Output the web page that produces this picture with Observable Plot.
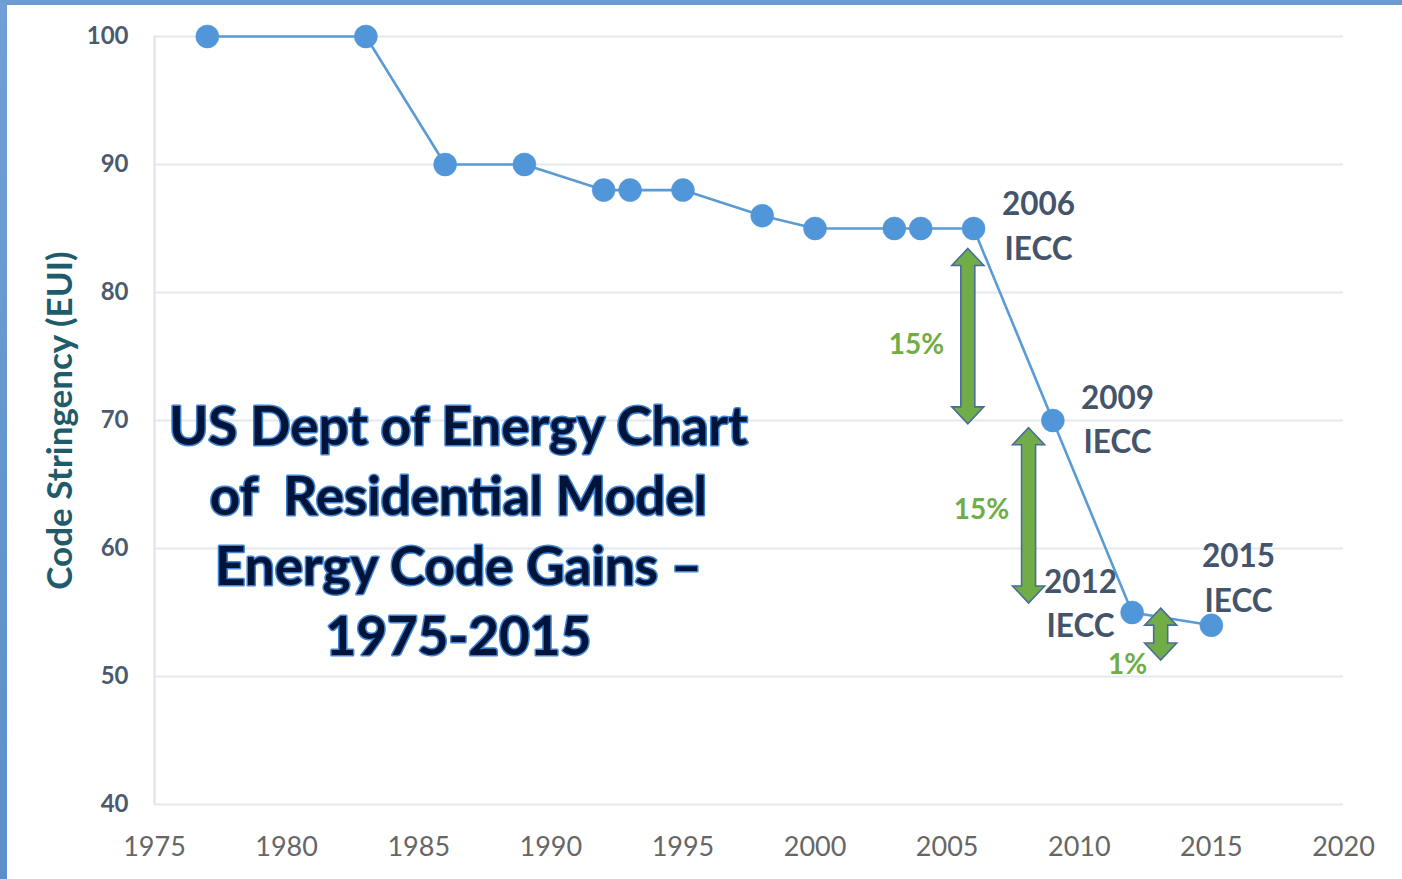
<!DOCTYPE html>
<html>
<head>
<meta charset="utf-8">
<script src="https://cdn.jsdelivr.net/npm/d3@7"></script>
<script src="https://cdn.jsdelivr.net/npm/@observablehq/plot@0.6"></script>
<style>
  html, body { margin: 0; padding: 0; background: #fff; }
  #wrap { position: relative; width: 1402px; height: 879px; overflow: hidden; }
  #topbar { position: absolute; left: 0; top: 0; width: 1402px; height: 5px; background: #6b9bd1; }
  #leftbar { position: absolute; left: 0; top: 0; width: 7px; height: 879px; background: linear-gradient(to bottom, #6f9fd4, #5b8fc9); }
</style>
</head>
<body>
<div id="wrap"><div id="chart"></div><div id="topbar"></div><div id="leftbar"></div></div>
<script>
// ---- data ----
const years  = [1977, 1983, 1986, 1989, 1992, 1993, 1995, 1998, 2000, 2003, 2004, 2006, 2009, 2012, 2015];
const values = [100, 100, 90, 90, 88, 88, 88, 86, 85, 85, 85, 85, 70, 55, 54];

const xTicks = [1975, 1980, 1985, 1990, 1995, 2000, 2005, 2010, 2015, 2020];
const yTicks = [40, 50, 60, 70, 80, 90, 100];

const codeLabels = ["2006\nIECC", "2009\nIECC", "2012\nIECC", "2015\nIECC"];
const codeLabelX = [2008.46, 2011.45, 2010.05, 2016.03];
const codeLabelY = [85.4, 70.3, 55.9, 57.9];

const arrowX    = [2005.8, 2008.1, 2013.1];
const arrowFrom = [83.4, 69.4, 55.3];
const arrowTo   = [69.7, 55.7, 51.25];

const pctLabels = ["15%", "15%", "1%"];
const pctX = [2003.84, 2006.3, 2011.83];
const pctY = [75.9, 63.0, 50.9];

const titleLines = ["US Dept of Energy Chart", "of  Residential Model", "Energy Code Gains –", "1975-2015"];
const titleX = 1986.5;
const titleY = 61.6;

const yLabel = "Code Stringency (EUI)";

// ---- tables ----
const series = years.map((y, i) => ({year: y, value: values[i]}));
const codes = codeLabels.map((t, i) => ({text: t, x: codeLabelX[i], y: codeLabelY[i]}));
const arrows = arrowX.map((x, i) => ({x, from: arrowFrom[i], to: arrowTo[i]}));
const pcts = pctLabels.map((t, i) => ({text: t, x: pctX[i], y: pctY[i]}));

function doubleArrows(data) {
  return (index, scales) => {
    const g = d3.create("svg:g");
    for (const d of data) {
      const x = scales.x(d.x);
      const a = scales.y(d.from), b = scales.y(d.to);
      const yt = Math.min(a, b), yb = Math.max(a, b);
      const sw = 7, hw = 16, hl = 17;
      const pts = [
        [x, yt], [x + hw, yt + hl], [x + sw, yt + hl], [x + sw, yb - hl], [x + hw, yb - hl],
        [x, yb], [x - hw, yb - hl], [x - sw, yb - hl], [x - sw, yt + hl], [x - hw, yt + hl]
      ];
      g.append("polygon")
        .attr("points", pts.map(p => p.join(",")).join(" "))
        .attr("fill", "#70ad47")
        .attr("stroke", "#4a6c9b")
        .attr("stroke-width", 1.6)
        .attr("stroke-linejoin", "miter");
    }
    return g.node();
  };
}

const chart = Plot.plot({
  width: 1402,
  height: 879,
  marginLeft: 154,
  marginRight: 59,
  marginTop: 36,
  marginBottom: 75,
  style: {fontFamily: "Lato, 'Open Sans', sans-serif", background: "transparent", overflow: "visible"},
  x: {domain: [1975, 2020], ticks: xTicks, tickFormat: d => String(d)},
  y: {domain: [40, 100], ticks: yTicks},
  marks: [
    Plot.gridY(yTicks, {stroke: "#e3e7ee", strokeOpacity: 1, strokeWidth: 2}),
    Plot.ruleX([1975], {y1: 40, y2: 100, stroke: "#dde2ea", strokeWidth: 2}),
    Plot.axisY(yTicks, {tickSize: 0, tickPadding: 26, fontSize: 24, fontWeight: "bold", fill: "#4a5a70", label: null}),
    Plot.axisX(xTicks, {tickSize: 0, tickPadding: 32, fontSize: 27, fill: "#666666", label: null, tickFormat: d => String(d)}),
    Plot.text([yLabel], {frameAnchor: "left", textAnchor: "middle", rotate: -90, dx: -94, fontSize: 35, fontWeight: "bold", fill: "#1f5c6b"}),
    Plot.line(series, {x: "year", y: "value", stroke: "#5b9bd5", strokeWidth: 2.6}),
    Plot.dot(series, {x: "year", y: "value", r: 11.5, fill: "#5296da", stroke: "#5296da", strokeWidth: 0.5}),
    doubleArrows(arrows),
    Plot.text(codes, {x: "x", y: "y", text: "text", fontSize: 31.5, fontWeight: "bold", fill: "#44546a", lineHeight: 1.4, lineAnchor: "middle"}),
    Plot.text(pcts, {x: "x", y: "y", text: "text", fontSize: 28, fontWeight: "bold", fill: "#70ad47"}),
    Plot.text([titleLines.join("\n")], {x: titleX, y: titleY, fontSize: 53, fontWeight: "bold", fill: "#00143a", stroke: "#3f86d6", strokeWidth: 3, lineHeight: 1.32, lineAnchor: "middle"})
  ]
});
document.getElementById("chart").appendChild(chart);
</script>
</body>
</html>
